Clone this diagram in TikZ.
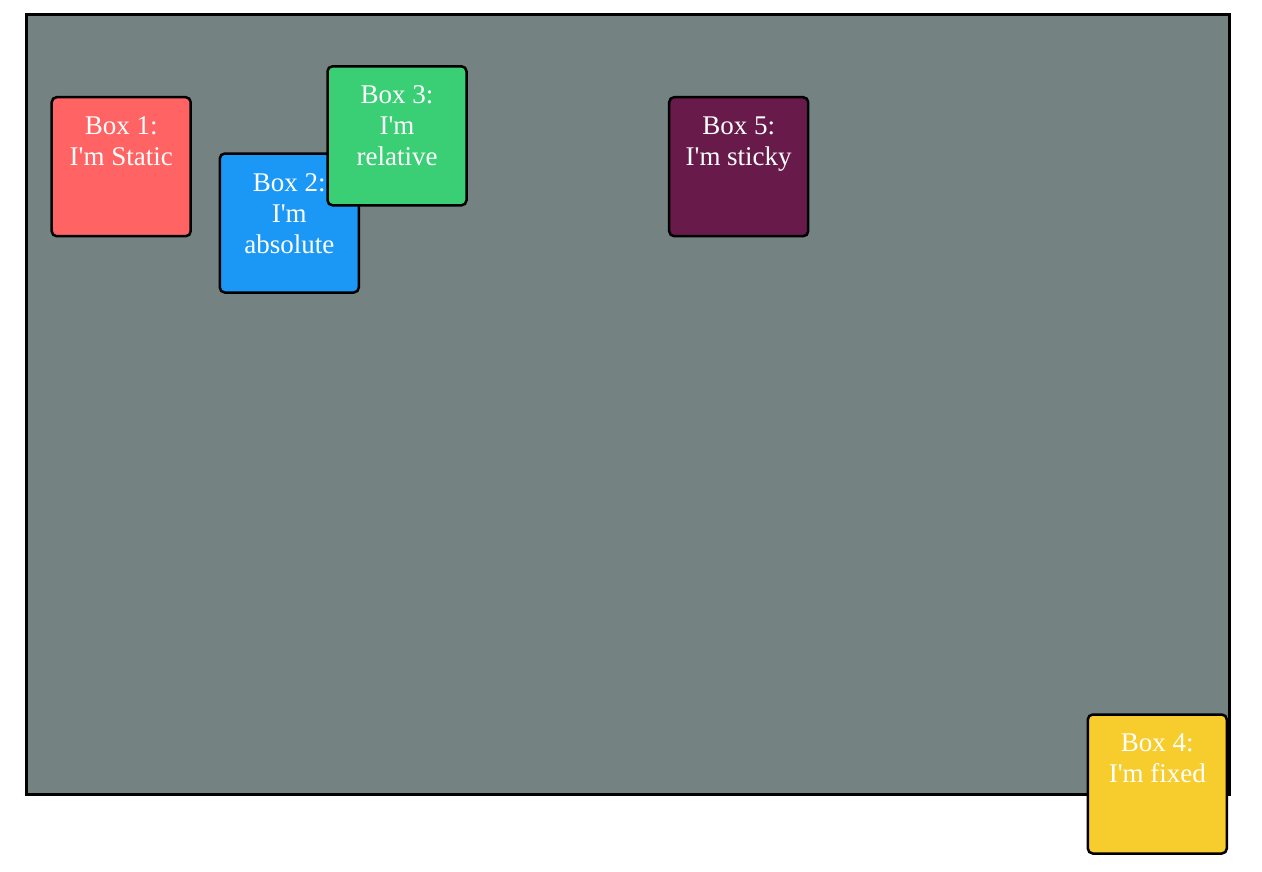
\documentclass[tikz,border=0pt]{standalone}
\usepackage{fontspec}
\newfontfamily\boxfont{Liberation Serif}
\definecolor{bggray}{RGB}{116,130,130}
\definecolor{cbox1}{RGB}{255,99,99}
\definecolor{cbox2}{RGB}{27,152,245}
\definecolor{cbox3}{RGB}{58,206,117}
\definecolor{cbox4}{RGB}{247,204,45}
\definecolor{cbox5}{RGB}{104,27,74}
\tikzset{
  posbox/.style={draw=black, line width=2.5pt, rounded corners=5pt, minimum width=139pt, minimum height=139pt, inner sep=0pt},
  boxlabel/.style={text=white, anchor=base, align=center, inner sep=0pt, font=\boxfont\fontsize{27}{31}\selectfont}
}
\begin{document}
\begin{tikzpicture}[x=1pt,y=-1pt]
\useasboundingbox (0,0) rectangle (1262,871);
\fill[white] (0,0) rectangle (1262,871);
\node[draw=black, fill=bggray, line width=2.6pt, minimum width=1203pt, minimum height=780pt, inner sep=0pt] (container) at (628,404.6) {};
\node[posbox, fill=cbox1] (b1) at (121.2,166.7) {};
\node[boxlabel] (t1) at (121.2,165.5) {Box 1:\\I'm Static};
\node[posbox, fill=cbox2] (b2) at (289.3,223) {};
\node[boxlabel] (t2) at (289.3,253) {Box 2:\\I'm\\absolute};
\node[posbox, fill=cbox3] (b3) at (397,135.8) {};
\node[boxlabel] (t3) at (397,165.5) {Box 3:\\I'm\\relative};
\node[posbox, fill=cbox5] (b5) at (738.7,166.7) {};
\node[boxlabel] (t5) at (738.7,165.5) {Box 5:\\I'm sticky};
\node[posbox, fill=cbox4] (b4) at (1157.3,784) {};
\node[boxlabel] (t4) at (1157.3,782.8) {Box 4:\\I'm fixed};
\end{tikzpicture}
\end{document}
